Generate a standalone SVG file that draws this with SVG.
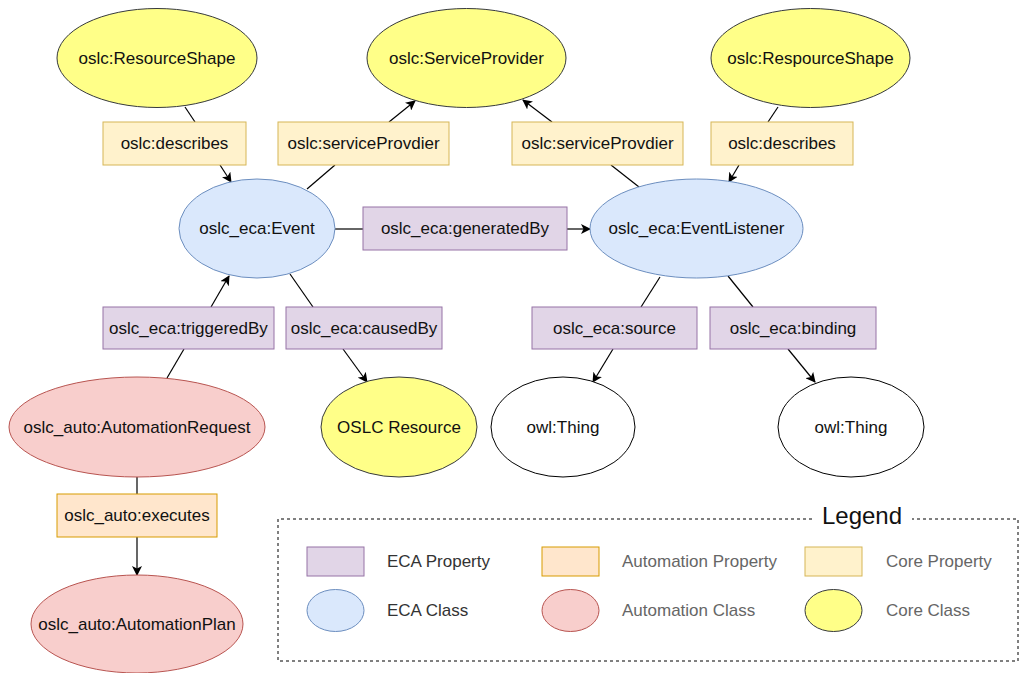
<svg xmlns="http://www.w3.org/2000/svg" width="1020" height="673" viewBox="0 0 1020 673">
<defs>
<marker id="arr" viewBox="0 0 10 10" refX="9" refY="5" markerWidth="10" markerHeight="10" markerUnits="userSpaceOnUse" orient="auto">
<path d="M0,0 L10,5 L0,10 L2.5,5 Z" fill="#000"/>
</marker>
</defs>
<style>
text{font-family:"Liberation Sans",Arial,sans-serif;font-size:17px;fill:#111;text-anchor:middle;dominant-baseline:central}
.core{fill:#ffff88;stroke:#36393d;stroke-width:1}
.eca{fill:#dae8fc;stroke:#6c8ebf;stroke-width:1}
.auto{fill:#f8cecc;stroke:#b85450;stroke-width:1}
.thing{fill:#fff;stroke:#000;stroke-width:1}
.ecap{fill:#e1d5e7;stroke:#9673a6;stroke-width:1}
.autop{fill:#ffe6cc;stroke:#d79b00;stroke-width:1}
.corep{fill:#fff2cc;stroke:#d6b656;stroke-width:1}
.c{stroke:#000;stroke-width:1.2;fill:none}
.a{stroke:#000;stroke-width:1.2;fill:none;marker-end:url(#arr)}
.lg{text-anchor:start;fill:#333}
.lg2{text-anchor:start;fill:#666}
</style>
<rect width="1020" height="673" fill="#fff"/>
<g id="connectors">
<line class="c" x1="185" y1="107" x2="195" y2="122"/>
<line class="a" x1="220" y1="165" x2="231" y2="182"/>
<line class="c" x1="307" y1="189" x2="335" y2="165"/>
<line class="a" x1="389" y1="122" x2="415" y2="101"/>
<line class="c" x1="639" y1="187" x2="611" y2="165"/>
<line class="a" x1="552" y1="122" x2="523" y2="100"/>
<line class="c" x1="778" y1="107" x2="768" y2="122"/>
<line class="a" x1="739" y1="165" x2="729" y2="182"/>
<line class="c" x1="335" y1="229" x2="363" y2="229"/>
<line class="a" x1="567" y1="229" x2="590" y2="229"/>
<line class="c" x1="167" y1="378" x2="184" y2="349"/>
<line class="a" x1="211" y1="307" x2="229" y2="276"/>
<line class="c" x1="290" y1="274" x2="313" y2="307"/>
<line class="a" x1="343" y1="349" x2="367" y2="382"/>
<line class="c" x1="660" y1="277" x2="641" y2="307"/>
<line class="a" x1="613" y1="349" x2="593" y2="382"/>
<line class="c" x1="728" y1="276" x2="753" y2="307"/>
<line class="a" x1="788" y1="349" x2="815" y2="382"/>
<line class="c" x1="137" y1="477" x2="137" y2="494"/>
<line class="a" x1="137" y1="537" x2="137" y2="575"/>
</g>
<g id="n-resourceshape"><ellipse class="core" cx="157" cy="58" rx="100" ry="49.5"/><text x="157" y="58">oslc:ResourceShape</text></g>
<g id="n-serviceprovider"><ellipse class="core" cx="466.5" cy="58" rx="99.5" ry="49.5"/><text x="466.5" y="58">oslc:ServiceProvider</text></g>
<g id="n-respourceshape"><ellipse class="core" cx="810.5" cy="58" rx="99.5" ry="49.5"/><text x="810.5" y="58">oslc:RespourceShape</text></g>
<g id="p-describes1"><rect class="corep" x="103" y="122" width="143" height="43"/><text x="174.5" y="143.5">oslc:describes</text></g>
<g id="p-sp1"><rect class="corep" x="278" y="122" width="171" height="43"/><text x="363.5" y="143.5">oslc:serviceProvdier</text></g>
<g id="p-sp2"><rect class="corep" x="512" y="122" width="171" height="43"/><text x="597.5" y="143.5">oslc:serviceProvdier</text></g>
<g id="p-describes2"><rect class="corep" x="711" y="122" width="142" height="43"/><text x="782" y="143.5">oslc:describes</text></g>
<g id="n-event"><ellipse class="eca" cx="257" cy="228.5" rx="78" ry="49.5"/><text x="257" y="228.5">oslc_eca:Event</text></g>
<g id="p-generatedby"><rect class="ecap" x="363" y="207" width="204" height="43"/><text x="465" y="228.5">oslc_eca:generatedBy</text></g>
<g id="n-eventlistener"><ellipse class="eca" cx="696.5" cy="228.5" rx="106.5" ry="49.5"/><text x="696.5" y="228.5">oslc_eca:EventListener</text></g>
<g id="p-triggeredby"><rect class="ecap" x="103" y="307" width="171" height="42"/><text x="188.5" y="328">oslc_eca:triggeredBy</text></g>
<g id="p-causedby"><rect class="ecap" x="286" y="307" width="156" height="42"/><text x="364" y="328">oslc_eca:causedBy</text></g>
<g id="p-source"><rect class="ecap" x="532" y="307" width="165" height="42"/><text x="614.5" y="328">oslc_eca:source</text></g>
<g id="p-binding"><rect class="ecap" x="710" y="307" width="166" height="42"/><text x="793" y="328">oslc_eca:binding</text></g>
<g id="n-autorequest"><ellipse class="auto" cx="137" cy="427" rx="128" ry="50"/><text x="137" y="427">oslc_auto:AutomationRequest</text></g>
<g id="n-oslcresource"><ellipse class="core" cx="399" cy="427" rx="78" ry="50"/><text x="399" y="427">OSLC Resource</text></g>
<g id="n-thing1"><ellipse class="thing" cx="563" cy="427" rx="72" ry="50"/><text x="563" y="427">owl:Thing</text></g>
<g id="n-thing2"><ellipse class="thing" cx="851" cy="427" rx="73" ry="50"/><text x="851" y="427">owl:Thing</text></g>
<g id="p-executes"><rect class="autop" x="57" y="494" width="160" height="43"/><text x="137" y="515.5">oslc_auto:executes</text></g>
<g id="n-autoplan"><ellipse class="auto" cx="137" cy="624" rx="106" ry="49"/><text x="137" y="624">oslc_auto:AutomationPlan</text></g>
<g id="legend">
<path d="M812,519 H278 V661 H1018 V519 H912" fill="none" stroke="#000" stroke-width="1" stroke-dasharray="3,3"/>
<text x="862" y="515" style="font-size:24px">Legend</text>
<rect class="ecap" x="307" y="547" width="57" height="29"/>
<text class="lg" x="387" y="561.5">ECA Property</text>
<rect class="autop" x="542" y="547" width="57" height="29"/>
<text class="lg2" x="622" y="561.5">Automation Property</text>
<rect class="corep" x="805" y="547" width="57" height="29"/>
<text class="lg2" x="886" y="561.5">Core Property</text>
<ellipse class="eca" cx="335.5" cy="610.5" rx="28.5" ry="21"/>
<text class="lg" x="387" y="610">ECA Class</text>
<ellipse class="auto" cx="570.5" cy="610.5" rx="28.5" ry="21"/>
<text class="lg2" x="622" y="610">Automation Class</text>
<ellipse class="core" cx="833.5" cy="610.5" rx="28.5" ry="21"/>
<text class="lg2" x="886" y="610">Core Class</text>
</g>
</svg>
